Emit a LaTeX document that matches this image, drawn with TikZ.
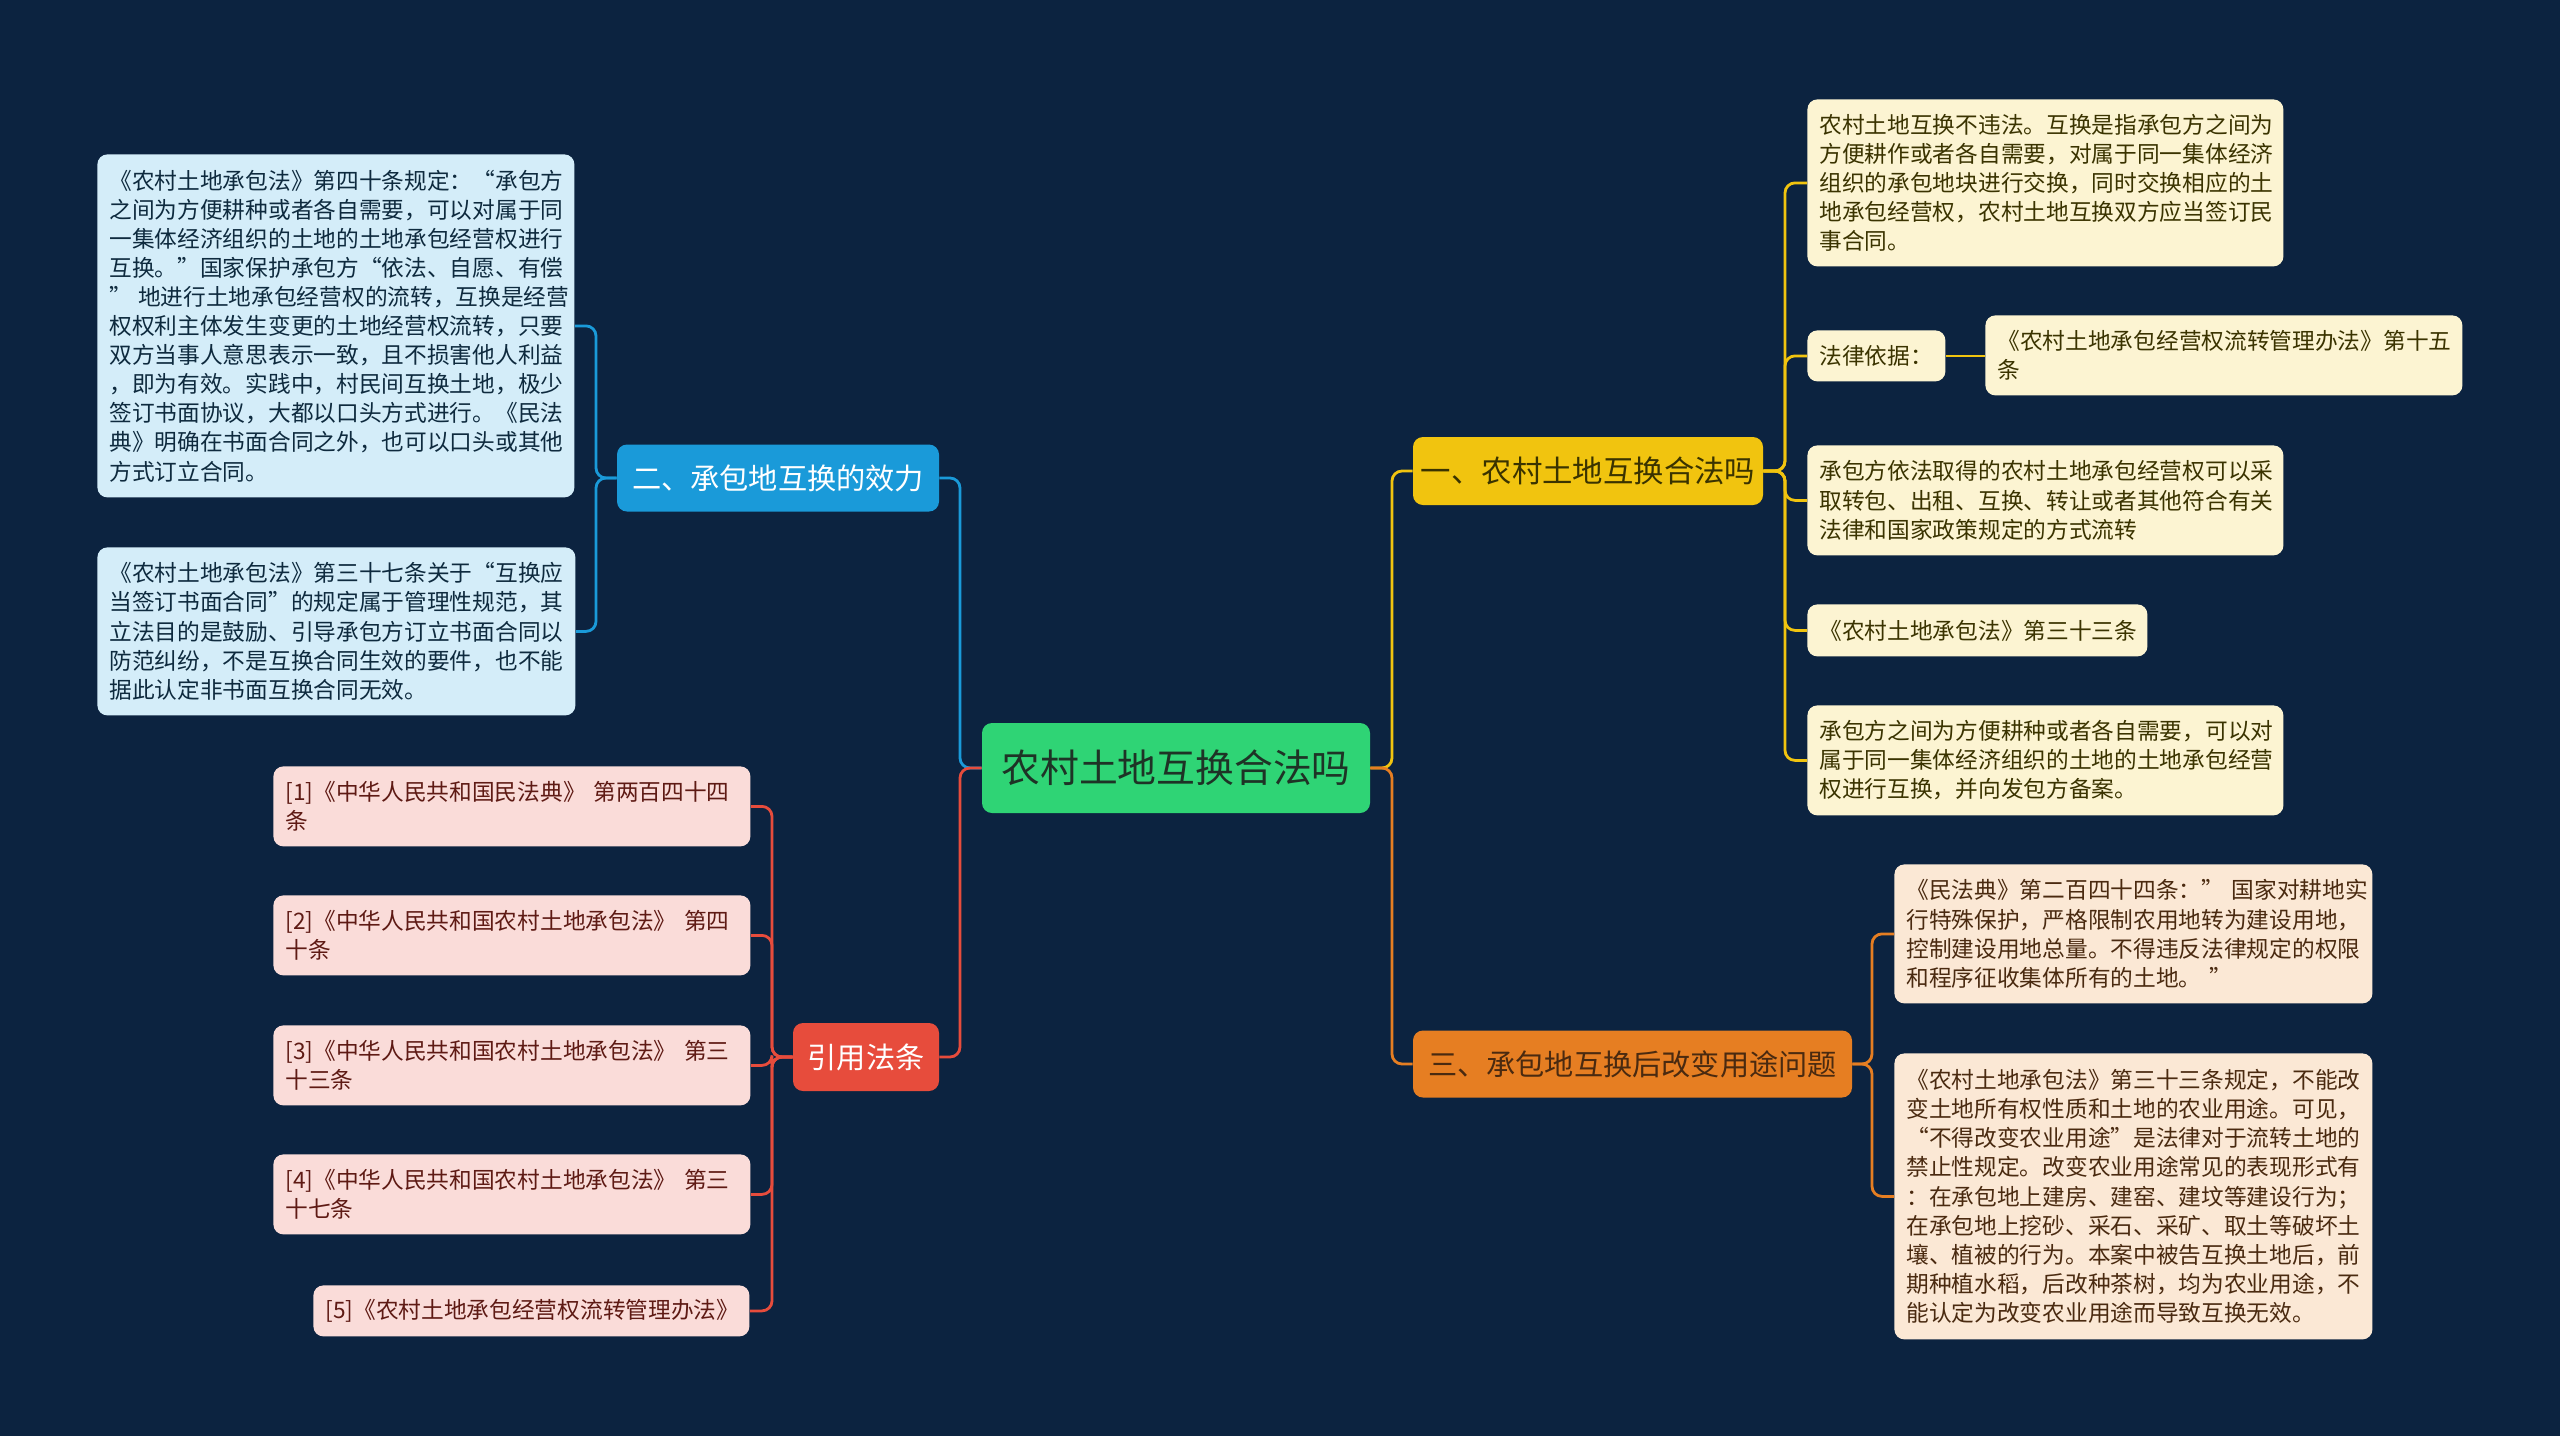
\documentclass[tikz,border=0pt]{standalone}
\usepackage{fontspec}
\setmainfont{Noto Sans CJK SC}
\definecolor{bgc}{HTML}{0C2340}
\definecolor{cgreen}{HTML}{2FD475}
\definecolor{cyel}{HTML}{F1C40F}
\definecolor{corg}{HTML}{E67E22}
\definecolor{cblue}{HTML}{1A9AD9}
\definecolor{cred}{HTML}{E74C3C}
\definecolor{lblue}{HTML}{D4EDF9}
\definecolor{lred}{HTML}{FADCD9}
\definecolor{lyel}{HTML}{FCF4D2}
\definecolor{lorg}{HTML}{FBE8D5}
\definecolor{tblue}{HTML}{0E2A3E}
\definecolor{tred}{HTML}{5E1A14}
\definecolor{tyel}{HTML}{3A3300}
\definecolor{torg}{HTML}{4A2A10}
\definecolor{tgreen}{HTML}{1E3326}
\begin{document}
\begin{tikzpicture}[x=0.5pt,y=-0.5pt,
  topic/.style={rounded corners=5pt, inner sep=0pt, align=center},
  leafbox/.style={rounded corners=5pt, anchor=north west, inner xsep=6pt, inner ysep=0pt, align=left,
    font=\fontsize{11.35pt}{14.55pt}\selectfont},
  bleaf/.style={leafbox, fill=lblue, text=tblue},
  rleaf/.style={leafbox, fill=lred, text=tred},
  yleaf/.style={leafbox, fill=lyel, text=tyel},
  oleaf/.style={leafbox, fill=lorg, text=torg},
  conn/.style={line width=1.4pt, rounded corners=5pt},
  yl/.style={conn, draw=cyel},
  ol/.style={conn, draw=corg},
  bl/.style={conn, draw=cblue},
  rl/.style={conn, draw=cred}]
\fill[bgc] (0,0) rectangle (2560,1436);
\useasboundingbox (0,0) rectangle (2560,1436);

% trunk coordinates
\coordinate (tr) at (1392,768);
\coordinate (tl) at (960,768);
\coordinate (by) at (1785,471);
\coordinate (bo) at (1872,1064);
\coordinate (bb) at (596,478);
\coordinate (br) at (772,1057);

% main topics
\node[topic, fill=cgreen, text=tgreen, minimum width=194pt, minimum height=45pt,
  font=\fontsize{19.4pt}{23pt}\selectfont] (ctr) at (1176,768) {农村土地互换合法吗};
\node[topic, fill=cyel, text=tyel, minimum width=175pt, minimum height=34pt,
  font=\fontsize{15.2pt}{19pt}\selectfont] (one) at (1588,471) {一、农村土地互换合法吗};
\node[topic, fill=corg, text=torg, minimum width=219.5pt, minimum height=33.5pt,
  font=\fontsize{14.6pt}{18pt}\selectfont] (three) at (1632.5,1064) {三、承包地互换后改变用途问题};
\node[topic, fill=cblue, text=white, minimum width=161pt, minimum height=33.5pt,
  font=\fontsize{14.6pt}{18pt}\selectfont] (two) at (778,478) {二、承包地互换的效力};
\node[topic, fill=cred, text=white, minimum width=73pt, minimum height=34pt,
  font=\fontsize{14.6pt}{18pt}\selectfont] (cite) at (866,1057) {引用法条};

% blue leaves
\node[bleaf, text width=226.5pt, minimum height=171.5pt] (l1) at (97,154) {《农村土地承包法》第四十条规定：“承包方\\之间为方便耕种或者各自需要，可以对属于同\\一集体经济组织的土地的土地承包经营权进行\\互换。”国家保护承包方“依法、自愿、有偿\\\mbox{”\hspace{3pt}地进行土地承包经营权的流转，互换是经营}\\权权利主体发生变更的土地经营权流转，只要\\双方当事人意思表示一致，且不损害他人利益\\，即为有效。实践中，村民间互换土地，极少\\签订书面协议，大都以口头方式进行。《民法\\典》明确在书面合同之外，也可以口头或其他\\方式订立合同。};
\node[bleaf, text width=227pt, minimum height=84pt] (l2) at (97,547) {《农村土地承包法》第三十七条关于“互换应\\当签订书面合同”的规定属于管理性规范，其\\立法目的是鼓励、引导承包方订立书面合同以\\防范纠纷，不是互换合同生效的要件，也不能\\据此认定非书面互换合同无效。};

% red leaves
\node[rleaf, text width=226.5pt, minimum height=40pt] (r1) at (273,766) {[1]《中华人民共和国民法典》~第两百四十四\\条};
\node[rleaf, text width=226.5pt, minimum height=40pt] (r2) at (273,895) {[2]《中华人民共和国农村土地承包法》~第四\\十条};
\node[rleaf, text width=226.5pt, minimum height=40pt] (r3) at (273,1025) {[3]《中华人民共和国农村土地承包法》~第三\\十三条};
\node[rleaf, text width=226.5pt, minimum height=40pt] (r4) at (273,1154) {[4]《中华人民共和国农村土地承包法》~第三\\十七条};
\node[rleaf, text width=206pt, minimum height=25.5pt] (r5) at (313,1285) {[5]《农村土地承包经营权流转管理办法》};

% yellow leaves
\node[yleaf, text width=226pt, minimum height=83.5pt] (y1) at (1807,99) {农村土地互换不违法。互换是指承包方之间为\\方便耕作或者各自需要，对属于同一集体经济\\组织的承包地块进行交换，同时交换相应的土\\地承包经营权，农村土地互换双方应当签订民\\事合同。};
\node[yleaf, text width=57pt, minimum height=25.5pt] (y2) at (1807,330) {法律依据：};
\node[yleaf, text width=226.5pt, minimum height=40pt] (y2a) at (1985,315) {《农村土地承包经营权流转管理办法》第十五\\条};
\node[yleaf, text width=226pt, minimum height=55pt] (y3) at (1807,445) {承包方依法取得的农村土地承包经营权可以采\\取转包、出租、互换、转让或者其他符合有关\\法律和国家政策规定的方式流转};
\node[yleaf, text width=158pt, minimum height=26pt] (y4) at (1807,604) {《农村土地承包法》第三十三条};
\node[yleaf, text width=226pt, minimum height=55pt] (y5) at (1807,705) {承包方之间为方便耕种或者各自需要，可以对\\属于同一集体经济组织的土地的土地承包经营\\权进行互换，并向发包方备案。};

% orange leaves
\node[oleaf, text width=227pt, minimum height=69.5pt] (o1) at (1894,864) {《民法典》第二百四十四条：”~国家对耕地实\\行特殊保护，严格限制农用地转为建设用地，\\控制建设用地总量。不得违反法律规定的权限\\和程序征收集体所有的土地。~”};
\node[oleaf, text width=227pt, minimum height=143pt] (o2) at (1894,1053) {《农村土地承包法》第三十三条规定，不能改\\变土地所有权性质和土地的农业用途。可见，\\“不得改变农业用途”是法律对于流转土地的\\禁止性规定。改变农业用途常见的表现形式有\\：在承包地上建房、建窑、建坟等建设行为；\\在承包地上挖砂、采石、采矿、取土等破坏土\\壤、植被的行为。本案中被告互换土地后，前\\期种植水稻，后改种茶树，均为农业用途，不\\能认定为改变农业用途而导致互换无效。};

% main connectors
\draw[yl] (ctr.east) -- (tr) |- (one.west);
\draw[ol] (ctr.east) -- (tr) |- (three.west);
\draw[bl] (ctr.west) -- (tl) |- (two.east);
\draw[rl] (ctr.west) -- (tl) |- (cite.east);

% yellow branch
\foreach \n in {y1,y2,y3,y4,y5}
  \draw[yl] (one.east) -- (by) |- (\n.west);
\draw[yl] (y2.east) -- (y2.east -| y2a.west);

% orange branch
\foreach \n in {o1,o2}
  \draw[ol] (three.east) -- (bo) |- (\n.west);

% blue branch
\foreach \n in {l1,l2}
  \draw[bl] (two.west) -- (bb) |- (\n.east);

% red branch
\foreach \n in {r1,r2,r3,r4,r5}
  \draw[rl] (cite.west) -- (br) |- (\n.east);
\end{tikzpicture}
\end{document}
